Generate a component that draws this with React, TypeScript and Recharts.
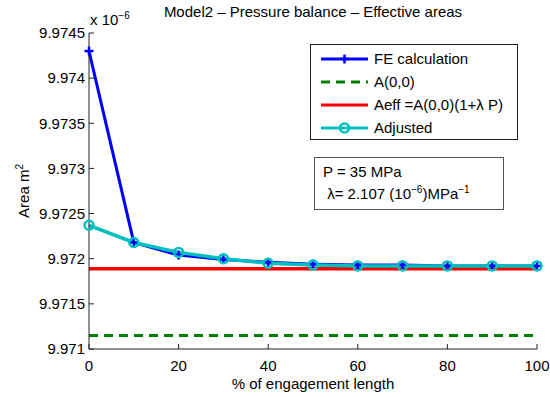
import { LineChart, Line, XAxis, YAxis } from 'recharts';

// % of engagement length
const engagement = [0, 10, 20, 30, 40, 50, 60, 70, 80, 90, 100];
// areas in units of 1e-6 m^2
const feCalculation = [9.9743, 9.97218, 9.97204, 9.97199, 9.97196, 9.97194, 9.97193, 9.97193, 9.97192, 9.97192, 9.97192];
const adjusted = [9.97237, 9.97218, 9.97207, 9.972, 9.97195, 9.97193, 9.97192, 9.97192, 9.97192, 9.97192, 9.97192];
const a00 = 9.97115;
const aeff = 9.97189;

const xTicks = [0, 20, 40, 60, 80, 100];
const yTicks = [9.971, 9.9715, 9.972, 9.9725, 9.973, 9.9735, 9.974, 9.9745];

const data = engagement.map((x, i) => ({
  x,
  fe: feCalculation[i],
  a00,
  aeff,
  adj: adjusted[i],
}));

const FONT = '"Liberation Sans", Arial, Helvetica, sans-serif';
const AXIS = '#222';
const TICK = 5;

const PlusDot = (p: any) => {
  const { cx, cy } = p;
  if (cx == null || cy == null) return null;
  return (
    <g>
      <line x1={cx - 4.5} x2={cx + 4.5} y1={cy} y2={cy} stroke="#0000ff" strokeWidth={2.5} />
      <line x1={cx} x2={cx} y1={cy - 4.5} y2={cy + 4.5} stroke="#0000ff" strokeWidth={2.5} />
    </g>
  );
};

const fmt = (v: number) => String(Number(v.toFixed(4)));

// ticks drawn inward, MATLAB style; tickMargin = 4 on every axis
const BottomTick = (p: any) => {
  const { x, y, payload } = p;
  const y0 = y - 4;
  return (
    <g>
      <line x1={x} x2={x} y1={y0} y2={y0 - TICK} stroke={AXIS} />
      <text x={x} y={y + 7} dy="0.71em" textAnchor="middle" fill="#000" fontSize={15} fontFamily={FONT}>
        {payload.value}
      </text>
    </g>
  );
};
const TopTick = (p: any) => {
  const { x, y } = p;
  const y0 = y + 4;
  return <line x1={x} x2={x} y1={y0} y2={y0 + TICK} stroke={AXIS} />;
};
const LeftTick = (p: any) => {
  const { x, y, payload } = p;
  const x0 = x + 4;
  return (
    <g>
      <line x1={x0} x2={x0 + TICK} y1={y} y2={y} stroke={AXIS} />
      <text x={x0 - 4} y={y} dy="0.355em" textAnchor="end" fill="#000" fontSize={15} fontFamily={FONT}>
        {fmt(payload.value)}
      </text>
    </g>
  );
};
const RightTick = (p: any) => {
  const { x, y } = p;
  const x0 = x - 4;
  return <line x1={x0} x2={x0 - TICK} y1={y} y2={y} stroke={AXIS} />;
};

function LegendRow({ kind, label }: { kind: string; label: string }) {
  let sample: any = null;
  if (kind === 'fe')
    sample = (
      <g>
        <line x1={0} x2={47} y1={6} y2={6} stroke="#0000ff" strokeWidth={3} />
        <line x1={19} x2={28} y1={6} y2={6} stroke="#0000ff" strokeWidth={2.5} />
        <line x1={23.5} x2={23.5} y1={1.5} y2={10.5} stroke="#0000ff" strokeWidth={2.5} />
      </g>
    );
  if (kind === 'a00') sample = <line x1={0} x2={47} y1={6} y2={6} stroke="#008000" strokeWidth={3} strokeDasharray="9 6" />;
  if (kind === 'aeff') sample = <line x1={0} x2={47} y1={6} y2={6} stroke="#ff0000" strokeWidth={3} />;
  if (kind === 'adj')
    sample = (
      <g>
        <line x1={0} x2={47} y1={6} y2={6} stroke="#00bfbf" strokeWidth={3} />
        <circle cx={23.5} cy={6} r={4.5} fill="none" stroke="#00bfbf" strokeWidth={2.5} />
      </g>
    );
  return (
    <div style={{ display: 'flex', alignItems: 'center', height: 23 }}>
      <svg width={47} height={12} style={{ marginRight: 6, overflow: 'visible' }}>{sample}</svg>
      <span>{label}</span>
    </div>
  );
}

export default function App() {
  return (
    <div style={{ position: 'absolute', left: 0, top: 0, width: 550, height: 397, background: '#fff', fontFamily: FONT, color: '#000' }}>
      <LineChart width={550} height={397} data={data} margin={{ top: 33, right: 13, bottom: 18, left: 29 }}>
        <XAxis
          dataKey="x"
          type="number"
          domain={[0, 100]}
          ticks={xTicks}
          interval={0}
          height={30}
          stroke={AXIS}
          tickLine={false}
          tickSize={0}
          tickMargin={4}
          tick={<BottomTick />}
        />
        <XAxis
          xAxisId="top"
          orientation="top"
          dataKey="x"
          type="number"
          domain={[0, 100]}
          ticks={xTicks}
          interval={0}
          height={0}
          stroke={AXIS}
          tickLine={false}
          tickSize={0}
          tickMargin={4}
          tick={<TopTick />}
        />
        <YAxis
          type="number"
          domain={[9.971, 9.9745]}
          ticks={yTicks}
          interval={0}
          width={60}
          stroke={AXIS}
          tickLine={false}
          tickSize={0}
          tickMargin={4}
          tick={<LeftTick />}
          allowDataOverflow
        />
        <YAxis
          yAxisId="right"
          orientation="right"
          type="number"
          domain={[9.971, 9.9745]}
          ticks={yTicks}
          interval={0}
          width={0}
          stroke={AXIS}
          tickLine={false}
          tickSize={0}
          tickMargin={4}
          tick={<RightTick />}
        />
        <Line dataKey="fe" stroke="#0000ff" strokeWidth={3} dot={<PlusDot />} isAnimationActive={false} />
        <Line dataKey="a00" stroke="#008000" strokeWidth={3} strokeDasharray="9 6" dot={false} isAnimationActive={false} />
        <Line dataKey="aeff" stroke="#ff0000" strokeWidth={3.5} dot={false} isAnimationActive={false} />
        <Line
          dataKey="adj"
          stroke="#00bfbf"
          strokeWidth={3.5}
          dot={{ r: 4.5, fill: 'none', stroke: '#00bfbf', strokeWidth: 2.5 }}
          isAnimationActive={false}
        />
      </LineChart>

      <div style={{ position: 'absolute', left: 0, width: 550, paddingLeft: 76, boxSizing: 'border-box', top: 3, textAlign: 'center', fontSize: 15 }}>
        Model2 – Pressure balance – Effective areas
      </div>
      <div style={{ position: 'absolute', left: 90, top: 10, fontSize: 15 }}>
        x 10<sup style={{ fontSize: 10 }}>−6</sup>
      </div>
      <div
        style={{
          position: 'absolute',
          left: 23,
          top: 191,
          transform: 'translate(-50%, -50%) rotate(-90deg)',
          fontSize: 15,
          whiteSpace: 'nowrap',
        }}
      >
        Area m<sup style={{ fontSize: 10 }}>2</sup>
      </div>
      <div style={{ position: 'absolute', left: 89, width: 448, top: 375, textAlign: 'center', fontSize: 15 }}>
        % of engagement length
      </div>

      <div
        style={{
          position: 'absolute',
          left: 310,
          top: 44,
          width: 208,
          height: 96,
          boxSizing: 'border-box',
          border: '1px solid #222',
          background: '#fff',
          fontSize: 15,
          padding: '2px 0 0 10px',
        }}
      >
        <LegendRow kind="fe" label="FE calculation" />
        <LegendRow kind="a00" label="A(0,0)" />
        <LegendRow kind="aeff" label="Aeff =A(0,0)(1+λ P)" />
        <LegendRow kind="adj" label="Adjusted" />
      </div>

      <div
        style={{
          position: 'absolute',
          left: 314,
          top: 157,
          width: 190,
          height: 53,
          boxSizing: 'border-box',
          border: '1px solid #555',
          background: '#fff',
          fontSize: 15,
          padding: '3px 0 0 8px',
          lineHeight: '22px',
        }}
      >
        <div>P = 35 MPa</div>
        <div>
          {'\u00a0'}λ= 2.107 (10<sup style={{ fontSize: 10, lineHeight: 0 }}>−6</sup>)MPa<sup style={{ fontSize: 10, lineHeight: 0 }}>−1</sup>
        </div>
      </div>
    </div>
  );
}
